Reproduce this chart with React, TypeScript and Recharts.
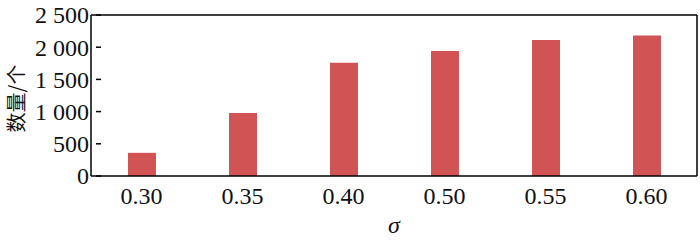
import { BarChart, Bar, XAxis, YAxis, CartesianGrid } from "recharts";

const sigmas = ["0.30", "0.35", "0.40", "0.50", "0.55", "0.60"];
const counts = [360, 980, 1760, 1940, 2110, 2180];
const yTicks = [0, 500, 1000, 1500, 2000, 2500];

const data = sigmas.map((s, i) => ({ sigma: s, count: counts[i] }));

const FONT = "'Liberation Serif', 'Times New Roman', serif";

const fmt = (v: number) =>
  v >= 1000 ? `${Math.floor(v / 1000)} ${String(v % 1000).padStart(3, "0")}` : String(v);

// y tick with the tick mark drawn inward, into the plot
const YTick = (props: any) => {
  const { x, y, payload } = props;
  const axisX = x + 7;
  return (
    <g>
      <line x1={axisX} x2={axisX + 5} y1={y} y2={y} stroke="#000" strokeWidth={1.5} />
      <text x={x} y={y} dy="0.35em" textAnchor="end" fontSize={24} fontFamily={FONT} fill="#111">
        {fmt(payload.value)}
      </text>
    </g>
  );
};

const YLabel = (props: any) => {
  const { viewBox } = props;
  const cx = viewBox.x + 15;
  const cy = viewBox.y + viewBox.height / 2 + 3;
  return (
    <text
      x={cx}
      y={cy}
      transform={`rotate(-90, ${cx}, ${cy})`}
      textAnchor="middle"
      dominantBaseline="central"
      fontSize={20}
      fontFamily="'Noto Sans CJK SC', sans-serif"
      fill="#111"
    >
      数量/个
    </text>
  );
};

const App = () => {
  return (
    <div style={{ position: "absolute", left: 0, top: 0, background: "#fff" }}>
      <BarChart
        width={700}
        height={241}
        data={data}
        margin={{ top: 15, right: 3, left: 0, bottom: 0 }}
      >
        {/* top and right frame lines */}
        <CartesianGrid
          stroke="#000"
          strokeWidth={1.5}
          horizontalCoordinatesGenerator={({ offset }: any) => [offset.top]}
          verticalCoordinatesGenerator={({ offset }: any) => [offset.left + offset.width]}
        />
        <XAxis
          dataKey="sigma"
          height={65}
          tickLine={false}
          tickSize={0}
          tickMargin={11}
          axisLine={{ stroke: "#000", strokeWidth: 1.5 }}
          tick={{ fontSize: 24, fontFamily: FONT, fill: "#111" }}
          label={{
            value: "σ",
            position: "insideBottom",
            offset: 8,
            fontSize: 24,
            fontFamily: FONT,
            fontStyle: "italic",
            fill: "#111",
          }}
        />
        <YAxis
          width={91}
          domain={[0, 2500]}
          ticks={yTicks}
          interval={0}
          tickSize={0}
          tickLine={false}
          axisLine={{ stroke: "#000", strokeWidth: 1.5 }}
          tick={<YTick />}
          label={<YLabel />}
        />
        <Bar dataKey="count" fill="#d25353" barSize={28} isAnimationActive={false} />
      </BarChart>
    </div>
  );
};

export default App;
